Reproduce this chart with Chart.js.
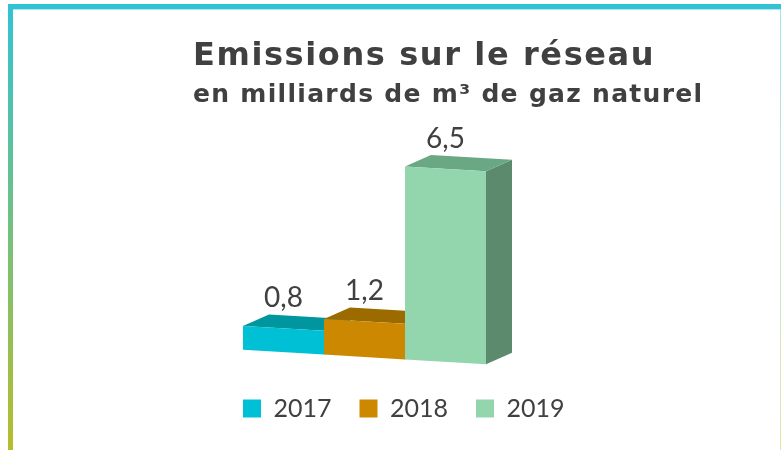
<!DOCTYPE html>
<html>
<head>
<meta charset="utf-8">
<script src="https://cdn.jsdelivr.net/npm/chart.js@4.4.0/dist/chart.umd.min.js"></script>
<style>
html,body{margin:0;padding:0;background:#fff;}
#wrap{position:relative;width:781px;height:450px;overflow:hidden;background:#fff;}
#c{position:absolute;left:0;top:0;}
.ftop{position:absolute;left:8px;top:4px;width:773px;height:5px;background:#31c2d3;}
.ftop2{position:absolute;left:13px;top:9px;width:768px;height:1px;background:#a9eaf0;}
.fleft{position:absolute;left:8px;top:4px;width:5px;height:446px;background:linear-gradient(#31c3d5,#b6bd2c);}
.fright{position:absolute;left:780px;top:9px;width:1px;height:441px;background:linear-gradient(#a0e6ee,#e8e6a8);}
</style>
</head>
<body>
<div id="wrap">
<canvas id="c" width="781" height="450"></canvas>
<div class="ftop"></div><div class="ftop2"></div><div class="fleft"></div><div class="fright"></div>
</div>
<script>
// ---- data ----
const categories = ['Emissions sur le réseau'];
const years = ['2017', '2018', '2019'];
const values = [0.8, 1.2, 6.5];
const frontColors = ['#00c0d6', '#cc8800', '#93d6ad'];
const topColors = ['#00969f', '#9c6b00', '#6aa883'];
const sideColors = ['#00838c', '#875c00', '#5b8a6c'];
const titleText = 'Emissions sur le réseau';
const subtitleText = 'en milliards de m³ de gaz naturel';

// ---- 3D look (styling constants) ----
const DX = 26, DY = -13, SKEW = 0.06;

const bar3d = {
  id: 'bar3d',
  beforeDatasetsDraw(chart) {
    const ctx = chart.ctx;
    const ca = chart.chartArea;
    const x0 = (ca.left + ca.right) / 2;
    ctx.save();
    ctx.transform(1, SKEW, 0, 1, 0, -SKEW * x0);
    chart.data.datasets.forEach((ds, i) => {
      const el = chart.getDatasetMeta(i).data[0];
      const l = el.x - el.width / 2, r = el.x + el.width / 2;
      const t = el.y, b = el.base;
      ctx.fillStyle = sideColors[i];
      ctx.beginPath();
      ctx.moveTo(r, t); ctx.lineTo(r + DX, t + DY); ctx.lineTo(r + DX, b + DY); ctx.lineTo(r, b);
      ctx.closePath(); ctx.fill();
      ctx.fillStyle = topColors[i];
      ctx.beginPath();
      ctx.moveTo(l, t); ctx.lineTo(l + DX, t + DY); ctx.lineTo(r + DX, t + DY); ctx.lineTo(r, t);
      ctx.closePath(); ctx.fill();
    });
  },
  afterDatasetsDraw(chart) {
    const ctx = chart.ctx;
    ctx.restore();
    const ca = chart.chartArea;
    const x0 = (ca.left + ca.right) / 2;
    ctx.save();
    ctx.font = '28px Lato';
    ctx.fillStyle = '#404040';
    ctx.textAlign = 'center';
    ctx.textBaseline = 'alphabetic';
    chart.data.datasets.forEach((ds, i) => {
      const el = chart.getDatasetMeta(i).data[0];
      const yy = el.y + SKEW * (el.x - x0) + DY - 8;
      ctx.fillText(String(ds.data[0]).replace('.', ','), el.x, yy);
    });
    ctx.restore();
  }
};

const legendShift = {
  id: 'legendShift',
  afterLayout(chart) {
    const lg = chart.legend;
    if (lg) { lg.left += 22; lg.right += 22; }
  }
};

// wider letter spacing for the title blocks (the original uses a wide geometric face)
const titleSpacing = {
  id: 'titleSpacing',
  afterLayout(chart) {
    chart.boxes.forEach(box => {
      if (box._spaced || !box.options || typeof box.options.text !== 'string') return;
      const sp = box.options.text === titleText ? '1.6px' : (box.options.text === subtitleText ? '1.3px' : null);
      if (!sp) return;
      const orig = box.draw.bind(box);
      box.draw = function () {
        const ctx = chart.ctx;
        ctx.save();
        ctx.letterSpacing = sp;
        orig();
        ctx.restore();
      };
      box._spaced = true;
    });
  }
};

new Chart(document.getElementById('c'), {
  type: 'bar',
  data: {
    labels: categories,
    datasets: years.map((y, i) => ({
      label: y,
      data: [values[i]],
      backgroundColor: frontColors[i],
      borderWidth: 0,
      categoryPercentage: 0.7085,
      barPercentage: 1,
      clip: false
    }))
  },
  options: {
    responsive: false,
    animation: false,
    layout: { padding: { left: 193, right: 0, top: 0, bottom: 19 } },
    scales: {
      x: {
        display: true, offset: true,
        grid: { display: false }, border: { display: false }, ticks: { display: false },
        afterFit(s) { s.height = 11; }
      },
      y: {
        position: 'right', min: 0, max: 8, display: true,
        grid: { display: false }, border: { display: false }, ticks: { display: false },
        afterFit(s) { s.width = 245; }
      }
    },
    plugins: {
      tooltip: { enabled: false },
      title: {
        display: true, text: titleText, align: 'start', color: '#404040',
        font: { family: 'DejaVu Sans', weight: 'bold', size: 32, lineHeight: 1.2 },
        padding: { top: 37, bottom: 5 }
      },
      subtitle: {
        display: true, text: subtitleText, align: 'start', color: '#404040',
        font: { family: 'DejaVu Sans', weight: 'bold', size: 25, lineHeight: 1.2 },
        padding: { top: 0, bottom: 9 }
      },
      legend: {
        position: 'bottom', align: 'start',
        labels: {
          boxWidth: 18, boxHeight: 18, padding: 28, color: '#404040',
          font: { family: 'Lato', size: 25 }
        }
      }
    }
  },
  plugins: [bar3d, legendShift, titleSpacing]
});
</script>
</body>
</html>
